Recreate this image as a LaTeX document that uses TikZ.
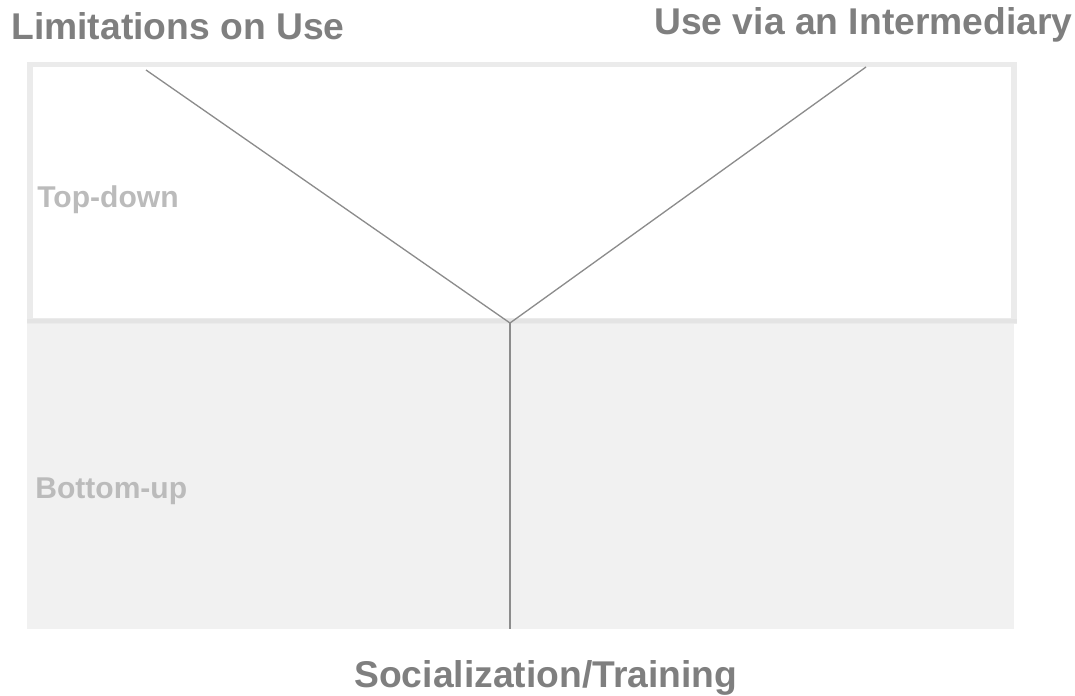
\documentclass[tikz,border=0pt]{standalone}
\usepackage{fontspec}
\setmainfont{Liberation Sans}
\usetikzlibrary{positioning}
\definecolor{titlegray}{HTML}{7F7F7F}
\definecolor{levelgray}{HTML}{BBBBBB}
\definecolor{framegray}{HTML}{EBEBEB}
\definecolor{sepgray}{HTML}{E4E4E4}
\definecolor{lowgray}{HTML}{F1F1F1}
\definecolor{linegray}{HTML}{8C8C8C}
\tikzset{
title/.style={font=\fontsize{21.2}{25}\selectfont\bfseries, text=titlegray, inner sep=0pt, anchor=base west}, % the three mechanisms
level/.style={font=\fontsize{17.1}{20}\selectfont\bfseries, text=levelgray, inner sep=0pt, anchor=base west}, % top-down / bottom-up
branch/.style={draw=linegray, line width=0.75pt}, % the Y lines
}
\begin{document}
\begin{tikzpicture}[x=0.02cm,y=-0.02cm]%one unit is one pixel of the reference
  \useasboundingbox (0,0) rectangle (1075,696);
  % regions
  \fill[lowgray] (27,321) rectangle (1014,629);
  \draw[framegray, line width=3.1pt, fill=white] (30,64.5) rectangle (1014,321);
  \draw[sepgray, line width=2.8pt] (27,321) -- (1016.5,321);

  % labels
  \node[title] (limits) at (11,40) {Limitations on Use};
  \node[title] (intermed) at (654,35) {Use via an Intermediary};
  \node[title] (social) at (354,687) {Socialization/Training};
  \node[level] (topdown) at (37,207) {Top-down};
  \node[level] (bottomup) at (35,498) {Bottom-up};

  % the Y
  \coordinate (hub) at (510,323);
  \coordinate (limitsend) at (146,70);
  \coordinate (intermedend) at (866,67);
  \coordinate (socialend) at (510,629);
  \path[branch]
  (hub) edge (limitsend)
  (hub) edge (intermedend)
  (hub) edge (socialend);
\end{tikzpicture}
\end{document}
